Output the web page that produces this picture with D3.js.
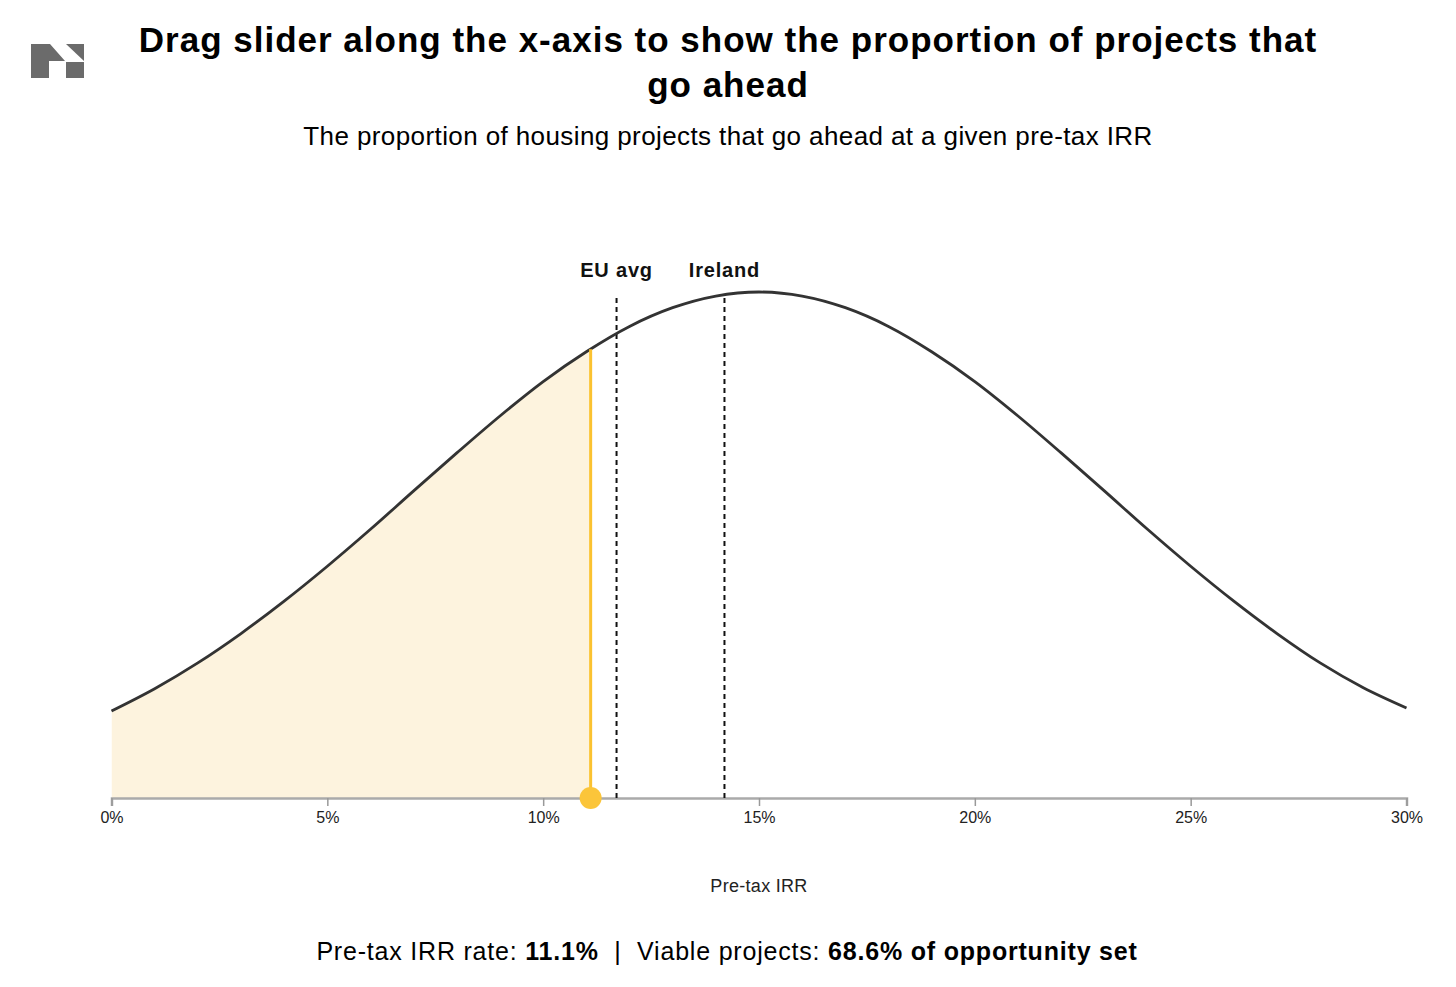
<!DOCTYPE html>
<html>
<head>
<meta charset="utf-8">
<script src="https://cdn.jsdelivr.net/npm/d3@7"></script>
<style>
  html, body { margin: 0; padding: 0; background: #fff; }
  svg { display: block; font-family: "Liberation Sans", Arial, Helvetica, sans-serif; }
  .pre { white-space: pre; }
</style>
</head>
<body>
<svg id="chart" width="1456" height="987"></svg>
<script>
// ---- data ----
const irr = d3.range(0, 31);            // pre-tax IRR, % (0..30 step 1)
const density = [0.172, 0.216, 0.267, 0.325, 0.389, 0.458, 0.531, 0.607, 0.682, 0.755,
                 0.823, 0.882, 0.932, 0.969, 0.992, 1.000, 0.992, 0.969, 0.932, 0.882,
                 0.823, 0.755, 0.682, 0.607, 0.531, 0.458, 0.389, 0.325, 0.267, 0.218, 0.178];
const xTicks = [0, 5, 10, 15, 20, 25, 30];
const markers = [ { label: "EU avg", value: 11.7 }, { label: "Ireland", value: 14.2 } ];
const sliderValue = 11.1;
const viableShare = 68.6;

const titleLines = ["Drag slider along the x-axis to show the proportion of projects that", "go ahead"];
const subtitle = "The proportion of housing projects that go ahead at a given pre-tax IRR";

// ---- layout ----
const svg = d3.select("#chart");
const x = d3.scaleLinear().domain([0, 30]).range([111.5, 1406.5]);
const y = d3.scaleLinear().domain([0, 1]).range([798, 292]);
const pts = irr.map((v, i) => ({ x: v, y: density[i] }));

// logo
const logo = svg.append("g").attr("fill", "#6b6b6b");
logo.append("path").attr("d", "M31,44 L50,44 L65,61 L49,61 L49,78 L31,78 Z");
logo.append("path").attr("d", "M66,44 L84,44 L84,61 Z");
logo.append("rect").attr("x", 66).attr("y", 62).attr("width", 18).attr("height", 16);

// title
svg.append("g").selectAll("text").data(titleLines).join("text")
  .attr("x", 728).attr("y", (d, i) => 52 + i * 45)
  .attr("text-anchor", "middle").attr("font-size", 35).attr("font-weight", "bold")
  .attr("letter-spacing", 1).attr("fill", "#000").text(d => d);
svg.append("text").attr("x", 728).attr("y", 145).attr("text-anchor", "middle")
  .attr("font-size", 26).attr("letter-spacing", 0.4).attr("fill", "#000").text(subtitle);

// clip for filled area
svg.append("defs").append("clipPath").attr("id", "clipL")
  .append("rect").attr("x", x(0)).attr("y", 0)
  .attr("width", x(sliderValue) - x(0)).attr("height", 800);

const curve = d3.curveMonotoneX;
const area = d3.area().x(d => x(d.x)).y0(y(0)).y1(d => y(d.y)).curve(curve);
const line = d3.line().x(d => x(d.x)).y(d => y(d.y)).curve(curve);

svg.append("path").datum(pts).attr("d", area)
  .attr("fill", "#fdf3de").attr("clip-path", "url(#clipL)");

// axis
const axis = svg.append("g").attr("transform", `translate(0,${y(0)})`)
  .call(d3.axisBottom(x).tickValues(xTicks).tickFormat(d => d + "%").tickSize(8).tickPadding(6));
axis.select(".domain").attr("stroke", "#aaa").attr("stroke-width", 2.5);
axis.selectAll(".tick line").attr("stroke", "#999").attr("stroke-width", 1.5);
axis.selectAll(".tick text").attr("font-size", 16).attr("fill", "#222")
  .attr("font-family", "'Liberation Sans', Arial, sans-serif");

svg.append("text").attr("x", x(15)).attr("y", 892).attr("text-anchor", "middle")
  .attr("font-size", 18).attr("letter-spacing", 0.3).attr("fill", "#222").text("Pre-tax IRR");

// marker dashed lines
const mk = svg.append("g");
mk.selectAll("line").data(markers).join("line")
  .attr("x1", d => x(d.value)).attr("x2", d => x(d.value))
  .attr("y1", 298).attr("y2", y(0))
  .attr("stroke", "#111").attr("stroke-width", 2).attr("stroke-dasharray", "5,4");
mk.selectAll("text").data(markers).join("text")
  .attr("x", d => x(d.value)).attr("y", 277).attr("text-anchor", "middle")
  .attr("font-size", 20).attr("letter-spacing", 0.8).attr("font-weight", "bold")
  .attr("fill", "#111").text(d => d.label);

// curve
svg.append("path").datum(pts).attr("d", line)
  .attr("fill", "none").attr("stroke", "#333").attr("stroke-width", 2.8);

// slider
const i0 = Math.floor(sliderValue);
const yAtSlider = d3.interpolateNumber(density[i0], density[i0 + 1])(sliderValue - i0);
svg.append("line").attr("x1", x(sliderValue)).attr("x2", x(sliderValue))
  .attr("y1", y(0)).attr("y2", y(yAtSlider))
  .attr("stroke", "#fbc230").attr("stroke-width", 3);
svg.append("circle").attr("cx", x(sliderValue)).attr("cy", y(0)).attr("r", 11)
  .attr("fill", "#fbc53a");

// readout
const ro = svg.append("text").attr("class", "pre").attr("x", 727).attr("y", 960)
  .attr("text-anchor", "middle").attr("font-size", 25).attr("letter-spacing", 0.8).attr("fill", "#000");
ro.append("tspan").text("Pre-tax IRR rate: ");
ro.append("tspan").attr("font-weight", "bold").text(sliderValue.toFixed(1) + "%");
ro.append("tspan").text("  |  ");
ro.append("tspan").text("Viable projects: ");
ro.append("tspan").attr("font-weight", "bold").text(viableShare.toFixed(1) + "% of opportunity set");
</script>
</body>
</html>
